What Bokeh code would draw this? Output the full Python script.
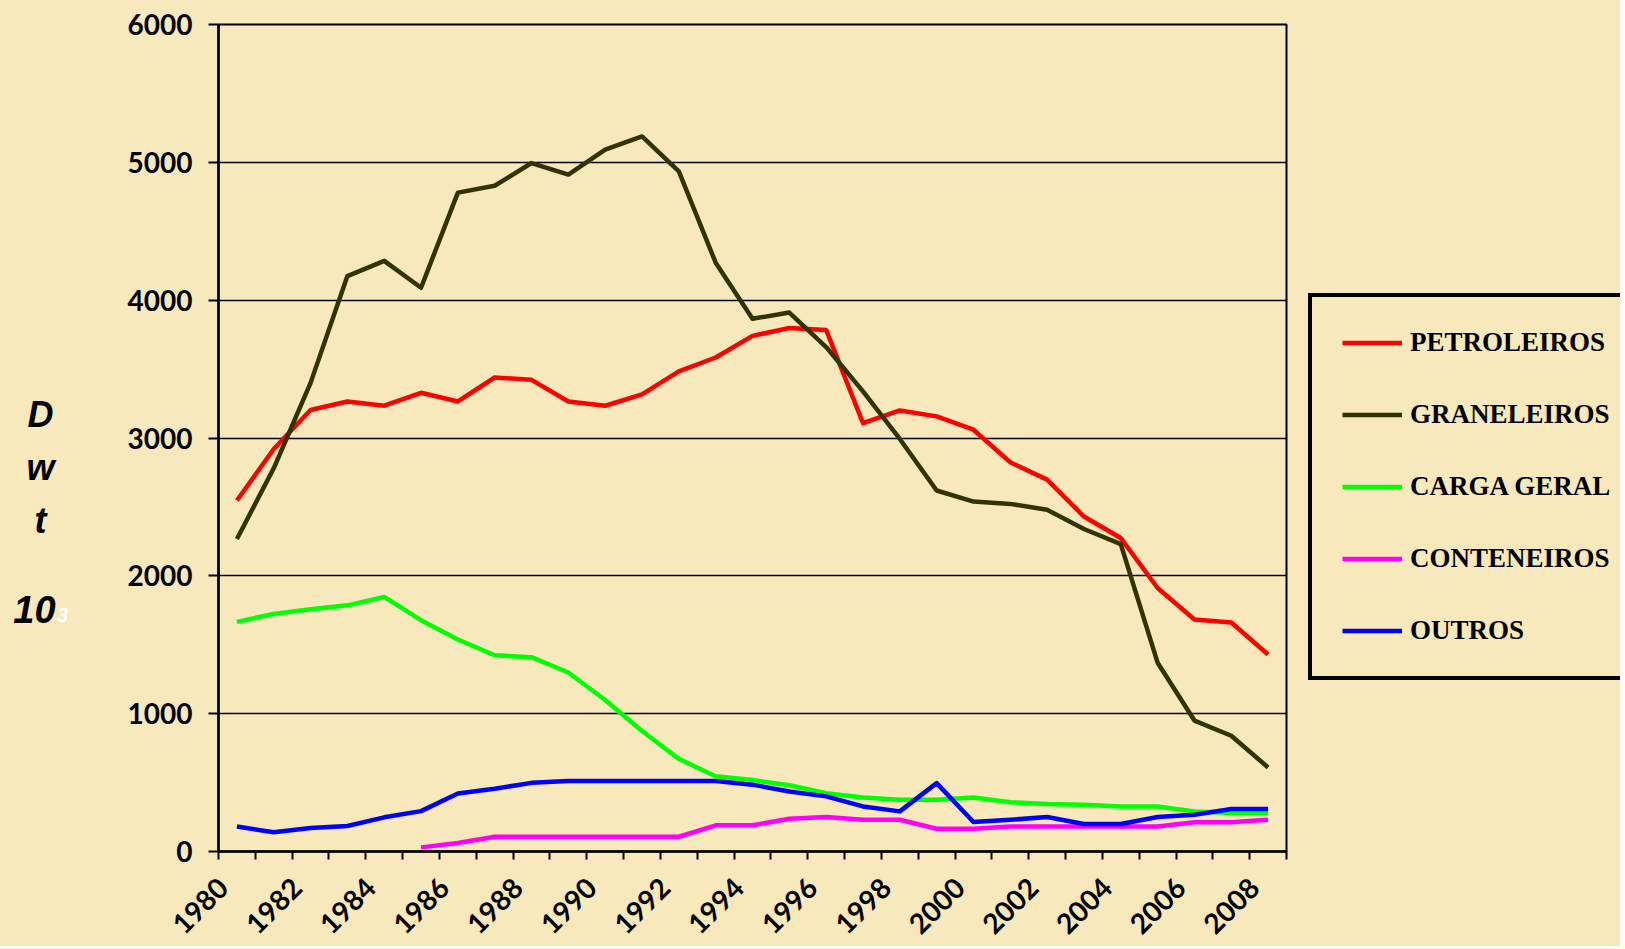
import math
import numpy as np
from bokeh.plotting import figure
from bokeh.layouts import row
from bokeh.models import (Range1d, FixedTicker, Legend, LegendItem, Label,
                          CustomJSTickFormatter)
from bokeh.embed import file_html
from bokeh.resources import INLINE

# ---------------- data ----------------
years = list(range(1980, 2009))

petroleiros = [2547, 2920, 3203, 3265, 3234, 3328, 3265, 3439, 3422, 3265,
               3234, 3316, 3483, 3584, 3741, 3798, 3784, 3108, 3200, 3157,
               3060, 2824, 2698, 2430, 2274, 1912, 1683, 1661, 1429]

graneleiros = [2267, 2780, 3400, 4175, 4285, 4090, 4780, 4830, 4995, 4911,
               5092, 5188, 4935, 4272, 3865, 3910, 3660, 3338, 2993, 2619,
               2539, 2522, 2479, 2340, 2230, 1370, 950, 840, 610]

carga_geral = [1666, 1724, 1757, 1786, 1847, 1678, 1538, 1424, 1410, 1299,
               1099, 874, 672, 546, 518, 481, 423, 392, 375, 375,
               392, 358, 344, 339, 327, 327, 291, 279, 279]

conteneiros = [None, None, None, None, None, 30, 62, 107, 107, 107,
               107, 107, 107, 190, 190, 237, 250, 230, 230, 165,
               165, 182, 182, 182, 182, 182, 213, 213, 230]

outros = [182, 139, 170, 185, 248, 293, 421, 455, 498, 512,
          512, 512, 512, 512, 485, 435, 400, 327, 291, 496,
          214, 230, 250, 199, 199, 250, 266, 308, 308]

series_names = ["PETROLEIROS", "GRANELEIROS", "CARGA GERAL", "CONTENEIROS", "OUTROS"]
series_values = [petroleiros, graneleiros, carga_geral, conteneiros, outros]
series_colors = ["#FF0000", "#333300", "#00FF00", "#FF00FF", "#0000FF"]

x_label_years = list(range(1980, 2009, 2))
y_ticks = [0, 1000, 2000, 3000, 4000, 5000, 6000]

BG = "#F7E9BC"
LABEL_SHIFT = 0.38   # rotated year labels sit slightly left of their category
H = 946

# ---------------- main chart ----------------
p = figure(width=1300, height=H, output_backend="svg", toolbar_location=None,
           x_range=Range1d(years[0] - 0.5, years[-1] + 0.5),
           y_range=Range1d(0, 6000),
           min_border_left=218, min_border_right=14,
           min_border_top=24, min_border_bottom=92)

p.background_fill_color = BG
p.border_fill_color = BG
p.outline_line_color = "black"
p.outline_line_width = 2

p.xgrid.grid_line_color = None
p.ygrid.grid_line_color = "black"
p.ygrid.grid_line_width = 1.5
p.ygrid.ticker = FixedTicker(ticks=y_ticks)

# y axis
ya = p.yaxis[0]
ya.ticker = FixedTicker(ticks=y_ticks)
ya.axis_line_color = "black"
ya.axis_line_width = 2.5
ya.major_tick_out = 10
ya.major_tick_in = 0
ya.major_tick_line_width = 2
ya.minor_tick_line_color = None
ya.major_label_standoff = 16
ya.major_label_text_font = "Lato"
ya.major_label_text_font_style = "bold"
ya.major_label_text_font_size = "28px"
ya.major_label_text_color = "black"

# x axis: boundary ticks between the yearly categories, labels every 2 years
xa = p.xaxis[0]
xa.ticker = FixedTicker(ticks=[y - LABEL_SHIFT for y in x_label_years],
                        minor_ticks=[y - 0.5 for y in years] + [years[-1] + 0.5])
xa.formatter = CustomJSTickFormatter(code="return String(Math.round(tick));")
xa.axis_line_color = "black"
xa.axis_line_width = 2.5
xa.major_tick_out = 0
xa.major_tick_in = 0
xa.minor_tick_out = 8
xa.minor_tick_in = 0
xa.minor_tick_line_color = "black"
xa.minor_tick_line_width = 2
xa.major_label_orientation = math.pi / 4
xa.major_label_standoff = 23
xa.major_label_text_font = "Lato"
xa.major_label_text_font_style = "bold"
xa.major_label_text_font_size = "28px"
xa.major_label_text_color = "black"

for name, vals, col in zip(series_names, series_values, series_colors):
    yv = np.array([np.nan if v is None else v for v in vals], dtype=float)
    p.line(np.array(years, dtype=float), yv, line_color=col, line_width=4.5,
           line_join="round")

# y-axis title (D w t 10^3)
ttl_font = "Liberation Sans"
p.add_layout(Label(x=40, y=467, x_units="canvas", y_units="canvas",
                   text="D\nw\nt", text_font=ttl_font,
                   text_font_style="bold italic", text_font_size="36px",
                   text_line_height=1.3, text_color="black",
                   text_align="center", text_baseline="middle"), "left")
p.add_layout(Label(x=34, y=609, x_units="canvas", y_units="canvas", text="10",
                   text_font=ttl_font, text_font_style="bold italic",
                   text_font_size="38px", text_color="black",
                   text_align="center", text_baseline="middle"), "left")
p.add_layout(Label(x=62, y=614, x_units="canvas", y_units="canvas", text="3",
                   text_font=ttl_font, text_font_style="bold italic",
                   text_font_size="21px", text_color="white",
                   text_align="center", text_baseline="middle"), "left")

# ---------------- legend panel (series drawn off-view, legend only) ----------------
pl = figure(width=320, height=H, output_backend="svg", toolbar_location=None,
            x_range=Range1d(0, 1), y_range=Range1d(0, 1), min_border=0,
            x_axis_location=None, y_axis_location=None)
pl.grid.visible = False
pl.outline_line_color = None
pl.background_fill_color = BG
pl.border_fill_color = BG

items = []
for name, vals, col in zip(series_names, series_values, series_colors):
    yv = np.array([np.nan if v is None else v for v in vals], dtype=float)
    r = pl.line(np.array(years, dtype=float), yv, line_color=col, line_width=4.5)
    items.append(LegendItem(label=name, renderers=[r]))

legend = Legend(items=items, location=(8, 171))
legend.border_line_color = "black"
legend.border_line_alpha = 1.0
legend.border_line_width = 4
legend.background_fill_alpha = 0
legend.padding = 30
legend.spacing = 41
legend.glyph_width = 60
legend.glyph_height = 31
legend.label_height = 31
legend.label_standoff = 8
legend.label_text_font = "Liberation Serif"
legend.label_text_font_style = "bold"
legend.label_text_font_size = "27px"
legend.label_text_color = "black"
legend.label_text_baseline = "middle"
legend.margin = 0
pl.add_layout(legend, "center")

layout = row(p, pl)
layout.styles = {"background-color": BG}
open("out.html", "w").write(file_html(layout, INLINE))
